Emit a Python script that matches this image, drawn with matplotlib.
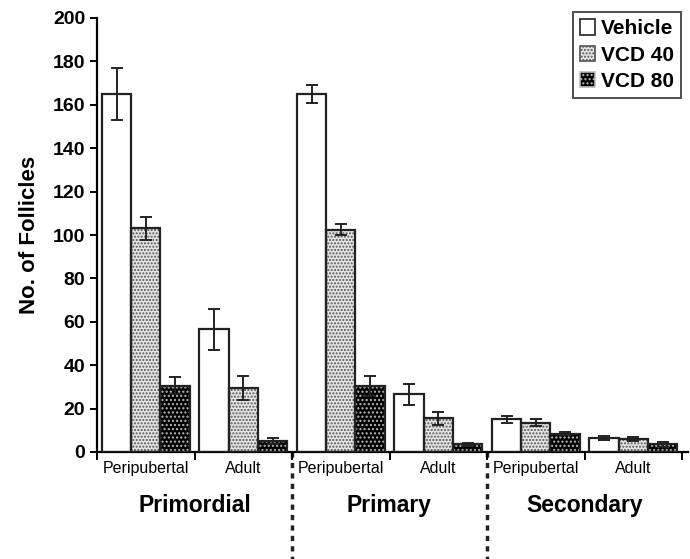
import numpy as np
import matplotlib.pyplot as plt
from matplotlib.patches import Patch

plt.rcParams['font.family'] = ['Liberation Sans', 'DejaVu Sans']

stages = ['Primordial', 'Primary', 'Secondary']
ages = ['Peripubertal', 'Adult']
series = ['Vehicle', 'VCD 40', 'VCD 80']

# one value per (stage, age) group, in order
vehicle = [165, 56.5, 165, 26.5, 15, 6.5]
vehicle_err = [12, 9.5, 4, 5, 1.5, 0.8]
vcd40 = [103, 29.5, 102.5, 15.5, 13.5, 6]
vcd40_err = [5.5, 5.5, 2.5, 3, 1.5, 0.8]
vcd80 = [30.5, 5, 30.5, 3.5, 8.5, 3.5]
vcd80_err = [4, 1.5, 4.5, 0.7, 0.7, 1]

fig = plt.figure(figsize=(6.9, 5.59), dpi=100)
ax = fig.add_axes([97/690, 107/559, 585/690, 434/559])

x = np.arange(len(vehicle)) + 0.5
w = 0.3
styles = [
    dict(face='white', hatch=None, hc='white'),
    dict(face='#e4e4e4', hatch='.....', hc='#555555'),
    dict(face='black', hatch='....', hc='#bbbbbb'),
]
data = [(vehicle, vehicle_err), (vcd40, vcd40_err), (vcd80, vcd80_err)]

for k, ((vals, errs), st) in enumerate(zip(data, styles)):
    pos = x + (k - 1) * w
    if st['hatch']:
        ax.bar(pos, vals, w, color=st['face'], edgecolor=st['hc'], hatch=st['hatch'],
               linewidth=0, zorder=2)
    else:
        ax.bar(pos, vals, w, color=st['face'], linewidth=0, zorder=2)
    ax.bar(pos, vals, w, fill=False, edgecolor='#222222', linewidth=1.6, zorder=3)
    ax.errorbar(pos, vals, yerr=errs, fmt='none', ecolor='#222222', elinewidth=1.4,
                capsize=4, capthick=1.4, zorder=4)

ax.set_xlim(0, 6)
ax.set_ylim(0, 200)
ax.set_yticks(np.arange(0, 201, 20))
ax.set_xticks(np.arange(0, 7))
ax.set_xticklabels([])
ax.tick_params(axis='y', labelsize=14, width=1.4, length=5)
ax.tick_params(axis='x', width=1.4, length=6)
for lab in ax.get_yticklabels():
    lab.set_fontweight('bold')
ax.spines['top'].set_visible(False)
ax.spines['right'].set_visible(False)
ax.spines['left'].set_linewidth(1.6)
ax.spines['bottom'].set_linewidth(1.6)
ax.spines['bottom'].set_bounds(0, 6.06)
ax.set_ylabel('No. of Follicles', fontsize=16, fontweight='bold', labelpad=9)

for i, xc in enumerate(x):
    ax.text(xc, -4, ages[i % 2], ha='center', va='top', fontsize=11.5)
for j, s in enumerate(stages):
    ax.text(2 * j + 1, -19.5, s, ha='center', va='top', fontsize=16.5, fontweight='bold')

for xd in [2, 4]:
    ax.plot([xd, xd], [0, -50], color='#222222', linestyle=(0, (1.5, 1.5)),
            linewidth=2.5, clip_on=False, zorder=1)

handles = [
    Patch(facecolor='white', edgecolor='#222222', linewidth=1.2),
    Patch(facecolor='#e4e4e4', edgecolor='#555555', hatch='.....', linewidth=1.2),
    Patch(facecolor='black', edgecolor='#bbbbbb', hatch='....', linewidth=1.2),
]
leg = ax.legend(handles, series, loc='upper right', bbox_to_anchor=(681/690, 1 - 12/559),
                bbox_transform=fig.transFigure, borderaxespad=0, frameon=True, fancybox=False,
                handlelength=0.75, handleheight=0.75, handletextpad=0.25, labelspacing=0.35,
                borderpad=0.35, prop={'weight': 'bold', 'size': 15})
leg.get_frame().set_edgecolor('#222222')
leg.get_frame().set_linewidth(1.4)

fig.savefig('out.png', dpi=100)
